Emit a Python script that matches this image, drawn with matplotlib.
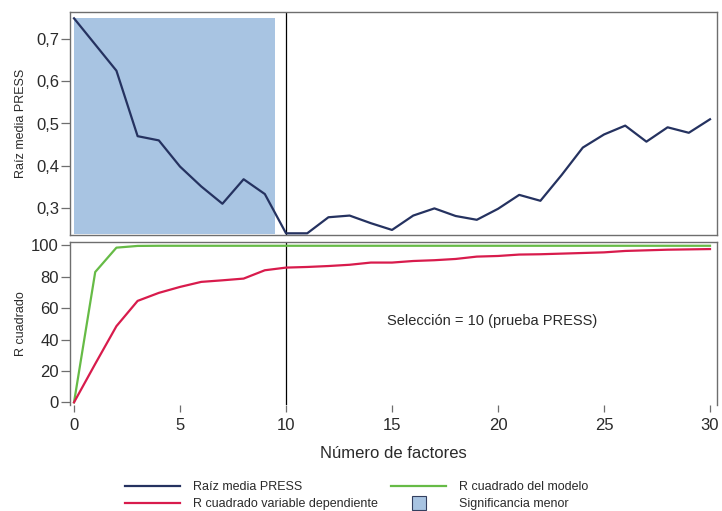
import matplotlib
matplotlib.use("Agg")
import matplotlib.pyplot as plt
from matplotlib.lines import Line2D
from matplotlib.ticker import FuncFormatter

plt.rcParams['font.family'] = ['Liberation Sans', 'DejaVu Sans']

# Number of extracted factors
factores = list(range(31))

# Root mean PRESS per number of factors
raiz_press = [0.749, 0.687, 0.625, 0.470, 0.460, 0.398, 0.351, 0.310, 0.368, 0.333,
              0.240, 0.240, 0.278, 0.282, 0.264, 0.248, 0.282, 0.299, 0.281, 0.272,
              0.298, 0.331, 0.317, 0.378, 0.443, 0.474, 0.495, 0.457, 0.491, 0.478,
              0.510]

# Percent variance explained in the model (X) and in the dependent variable (Y)
r2_modelo = [0.0, 83.0, 98.5, 99.6, 99.7, 99.7, 99.7, 99.7, 99.7, 99.7,
             99.7, 99.7, 99.7, 99.7, 99.7, 99.7, 99.7, 99.7, 99.7, 99.7,
             99.7, 99.7, 99.7, 99.7, 99.7, 99.7, 99.7, 99.7, 99.7, 99.7,
             99.7]
r2_dependiente = [0.0, 24.5, 48.5, 64.6, 69.7, 73.5, 76.7, 77.7, 78.8, 84.1,
                  85.8, 86.2, 86.8, 87.6, 89.0, 89.0, 90.0, 90.5, 91.3, 92.8,
                  93.2, 94.1, 94.3, 94.7, 95.1, 95.5, 96.4, 96.8, 97.2, 97.4,
                  97.6]

seleccion = 10
zona_sig = (0, 9.5)

c_press = '#253260'
c_modelo = '#66bb46'
c_dep = '#d81b4c'
c_sig = '#a8c4e2'
c_spine = '#6e6e6e'
c_text = '#2a2a2a'

fig = plt.figure(figsize=(7.22, 5.11), dpi=100)
W, H = 722, 511

def px_axes(l, t, r, b):
    return [l / W, 1 - b / H, (r - l) / W, (b - t) / H]

ax1 = fig.add_axes(px_axes(70, 12, 717, 235))
ax2 = fig.add_axes(px_axes(70, 242, 717, 405))

xlim = (-0.19, 30.33)
lw = 1.6

# Upper panel: root mean PRESS
ax1.fill_between(zona_sig, [0.238, 0.238], [max(raiz_press)] * 2,
                 color=c_sig, linewidth=0, zorder=1)
ax1.plot(factores, raiz_press, color=c_press, linewidth=lw, zorder=3)
ax1.axvline(seleccion, color='black', linewidth=0.9, zorder=2)
ax1.set_xlim(*xlim)
ax1.set_ylim(0.236, 0.764)
ax1.set_yticks([0.3, 0.4, 0.5, 0.6, 0.7])
ax1.yaxis.set_major_formatter(FuncFormatter(lambda v, p: f"{v:.1f}".replace('.', ',')))
ax1.tick_params(axis='x', bottom=False, labelbottom=False)
ax1.set_ylabel('Raíz media PRESS', fontsize=9, color=c_text)
ax1.yaxis.set_label_coords(-0.066, 0.5)

# Lower panel: R squared
ax2.plot(factores, r2_modelo, color=c_modelo, linewidth=lw, zorder=3)
ax2.plot(factores, r2_dependiente, color=c_dep, linewidth=lw, zorder=3)
ax2.axvline(seleccion, color='black', linewidth=0.9, zorder=2)
ax2.set_xlim(*xlim)
ax2.set_ylim(-1.7, 102.1)
ax2.set_yticks([0, 20, 40, 60, 80, 100])
ax2.set_xticks([0, 5, 10, 15, 20, 25, 30])
ax2.set_ylabel('R cuadrado', fontsize=9, color=c_text)
ax2.yaxis.set_label_coords(-0.066, 0.5)
ax2.set_xlabel('Número de factores', fontsize=12, color=c_text, labelpad=10)
ax2.text(14.76, 51.9, f'Selección = {seleccion} (prueba PRESS)', fontsize=10.5,
         color=c_text, ha='left', va='center')

for ax in (ax1, ax2):
    for s in ax.spines.values():
        s.set_color(c_spine)
        s.set_linewidth(1.0)
    ax.tick_params(axis='both', direction='out', length=6.5, width=0.9,
                   color=c_spine, labelsize=12, labelcolor=c_text, pad=1.5)

ax2.spines['bottom'].set_visible(False)
ax2.tick_params(axis='x', length=5, pad=4)

handles = [
    Line2D([], [], color=c_press, linewidth=lw, label='Raíz media PRESS'),
    Line2D([], [], color=c_dep, linewidth=lw, label='R cuadrado variable dependiente'),
    Line2D([], [], color=c_modelo, linewidth=lw, label='R cuadrado del modelo'),
    Line2D([], [], color='none', marker='s', markersize=10.5, markerfacecolor=c_sig,
           markeredgecolor='#333f5f', markeredgewidth=0.8, label='Significancia menor'),
]
fig.legend(handles=handles, ncol=2, loc='center', bbox_to_anchor=(0.494, 0.030),
           frameon=False, fontsize=9, handlelength=4.4, handletextpad=1.05,
           columnspacing=1.1, labelspacing=0.42, labelcolor=c_text)

fig.savefig('out.png', dpi=100, facecolor='white')
